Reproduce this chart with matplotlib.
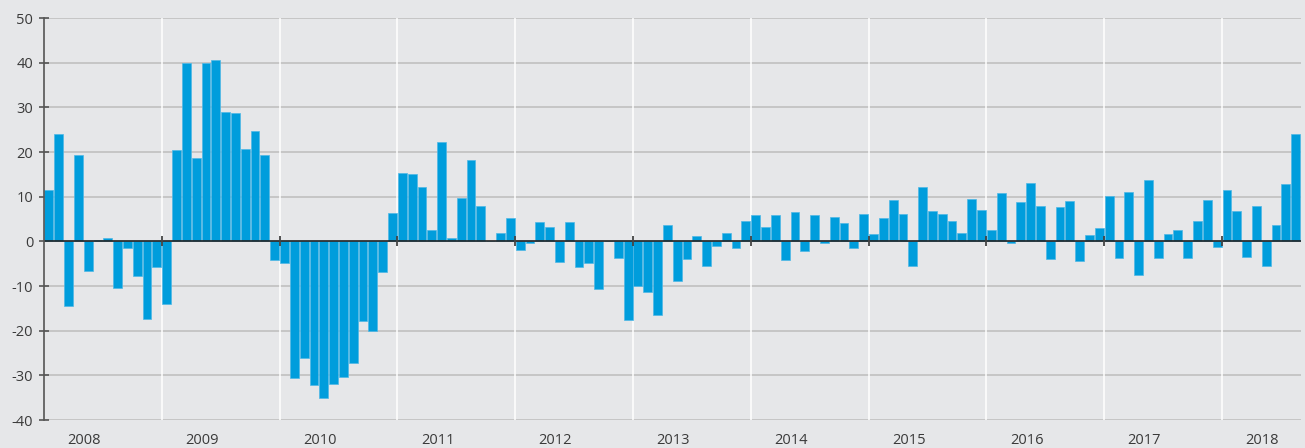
import numpy as np
import matplotlib.pyplot as plt

# monthly change (%), Jan 2008 - Aug 2018
years = ["2008", "2009", "2010", "2011", "2012", "2013",
         "2014", "2015", "2016", "2017", "2018"]
v2008 = [11.5, 24.0, -14.4, 19.4, -6.7, 0.4, 0.8, -10.5, -1.6, -7.8, -17.4, -5.8]
v2009 = [-14.1, 20.4, 39.9, 18.6, 40.0, 40.6, 29.0, 28.7, 20.6, 24.7, 19.3, -4.2]
v2010 = [-4.8, -30.5, -26.2, -32.2, -35.0, -32.0, -30.3, -27.2, -17.8, -20.1, -6.8, 6.4]
v2011 = [15.2, 15.0, 12.1, 2.5, 22.2, 0.7, 9.7, 18.1, 8.0, 0.0, 1.9, 5.2]
v2012 = [-1.9, -0.4, 4.3, 3.3, -4.6, 4.3, -5.7, -4.9, -10.6, 0.0, -3.7, -17.7]
v2013 = [-9.9, -11.3, -16.4, 3.7, -8.9, -4.0, 1.3, -5.5, -1.0, 1.9, -1.6, 4.6]
v2014 = [5.8, 3.3, 6.0, -4.2, 6.5, -2.2, 6.0, -0.4, 5.4, 4.0, -1.4, 6.2]
v2015 = [1.7, 5.3, 9.2, 6.1, -5.5, 12.2, 6.9, 6.1, 4.5, 1.8, 9.4, 7.1]
v2016 = [2.5, 10.9, -0.4, 8.8, 13.0, 7.9, -4.0, 7.7, 9.0, -4.4, 1.4, 3.0]
v2017 = [10.1, -3.7, 11.1, -7.6, 13.7, -3.8, 1.7, 2.6, -3.7, 4.5, 9.3, -1.3]
v2018 = [11.5, 6.8, -3.6, 7.9, -5.5, 3.7, 12.8, 24.0]

values = np.array(v2008 + v2009 + v2010 + v2011 + v2012 + v2013
                  + v2014 + v2015 + v2016 + v2017 + v2018)
months = np.arange(len(values))

bg = "#e6e7e9"
blue = "#009ddc"
dark = "#3a3a3a"

plt.rcParams.update({"font.family": ["Open Sans", "DejaVu Sans"],
                     "font.size": 10,
                     "axes.unicode_minus": False})

fig = plt.figure(figsize=(13.05, 4.48), dpi=100)
fig.patch.set_facecolor(bg)
ax = fig.add_axes([0.0337, 0.0625, 0.9629, 0.8973])
ax.set_facecolor(bg)

ax.bar(months + 0.5, values, width=0.9, color=blue,
       edgecolor="#4fb8e6", linewidth=0.5, zorder=3)

ax.set_xlim(0, len(values))
ax.set_ylim(-40, 50)

# horizontal grid
for y in range(-40, 51, 10):
    if y != 0:
        ax.axhline(y, color="#c0c0c0", lw=1.2, zorder=1)
ax.axhline(0, color="#222222", lw=1.2, zorder=4)

# year separators and ticks on the zero line
for k in range(1, len(years)):
    ax.axvline(12 * k, color="white", lw=1.1, zorder=2)
    ax.plot([12 * k, 12 * k], [-1.1, 1.1], color="#444444", lw=1.3,
            zorder=5, solid_capstyle="butt")

for s in ["top", "right", "bottom"]:
    ax.spines[s].set_visible(False)
ax.spines["left"].set_color("#555555")
ax.spines["left"].set_linewidth(1.2)
ax.spines["left"].set_zorder(5)

ax.set_yticks(range(-40, 51, 10))
ax.tick_params(axis="y", direction="inout", length=7.5, width=1.2,
               color="#555555", labelcolor=dark, labelsize=10.5, pad=4)

label_pos = [12 * k + 4.1 for k in range(len(years))]
ax.set_xticks(label_pos, years)
ax.tick_params(axis="x", length=0, labelcolor=dark, labelsize=10.5, pad=9.5)

fig.savefig("out.png", dpi=100, facecolor=bg)
